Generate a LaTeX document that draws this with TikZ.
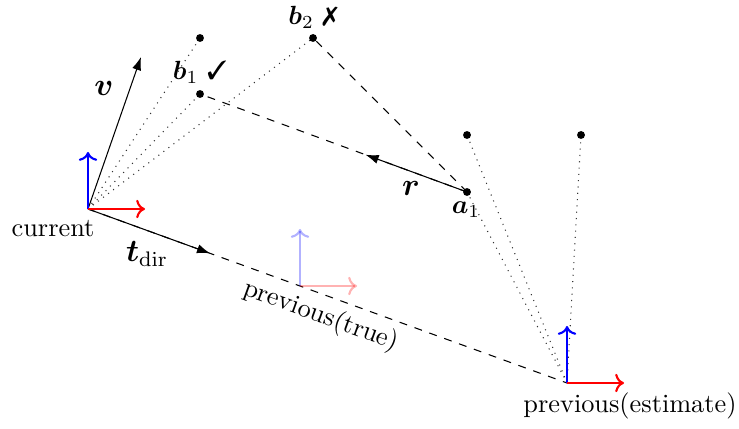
\documentclass[tikz,border=0pt]{standalone}
\usepackage{amsmath,bm,pifont}
\usetikzlibrary{calc,arrows.meta}
\begin{document}
\begin{tikzpicture}[x=0.38pt,y=-0.38pt,
  dotpt/.style={fill=black,circle,inner sep=0pt,minimum size=3pt},
  sight/.style={dotted,black!80},
  axx/.style={->,thick,red},
  axy/.style={->,thick,blue},
  vec/.style={-{Latex[length=5pt,width=3.5pt]}},
  lbl/.style={inner sep=1pt}]
\useasboundingbox (0,0) rectangle (739,429);
% frames
\coordinate (cur) at (88,209);
\coordinate (cury) at (88,152);
\coordinate (curx) at (145,209);
\coordinate (pest) at (567,383);
\coordinate (pesty) at (567,326);
\coordinate (pestx) at (624,383);
\coordinate (ptrue) at (300,286);
\coordinate (ptruey) at (300,229);
\coordinate (ptruex) at (357,286);
% points
\coordinate (b1u) at (200,38);
\coordinate (b1) at (200,94);
\coordinate (b2) at (313,38);
\coordinate (a1u) at (467,135);
\coordinate (a1) at (467,192);
\coordinate (cu) at (581,135);
\coordinate (vend) at (141,57);
% sight lines
\draw[sight] (cur) -- (b1u);
\draw[sight] (cur) -- (b1);
\draw[sight] (cur) -- (b2);
\draw[sight] (pest) -- (a1u);
\draw[sight] (pest) -- (a1);
\draw[sight] (pest) -- (cu);
% dashed
\draw[dashed] (cur) -- (pest);
\draw[dashed] (a1) -- (b1);
\draw[dashed] (a1) -- (b2);
% vectors
\draw[vec] (cur) -- ($(cur)!0.255!(pest)$);
\draw[vec] (a1) -- ($(a1)!0.38!(b1)$);
\draw[vec] (cur) -- (vend);
% axes
\draw[axy] (cur) -- (cury);
\draw[axx] (cur) -- (curx);
\draw[axy,opacity=0.3] (ptrue) -- (ptruey);
\draw[axx,opacity=0.3] (ptrue) -- (ptruex);
\draw[axy] (pest) -- (pesty);
\draw[axx] (pest) -- (pestx);
% dots
\foreach \p in {b1u,b1,b2,a1u,a1,cu} \node[dotpt] at (\p) {};
% labels
\node[lbl] (lcur) at (53,229) {current};
\node[lbl] (lpest) at (630,406) {previous(estimate)};
\node[lbl,rotate=-20] (lptrue) at (321,316) {previous(true)};
\node[lbl,font=\large] (lv) at (104,88) {$\bm{v}$};
\node[lbl,font=\large] (lt) at (147,254) {$\bm{t}_{\mathrm{dir}}$};
\node[lbl,font=\large] (lr) at (411,188) {$\bm{r}$};
\node[lbl] (la1) at (466,210) {$\bm{a}_1$};
\node[lbl] (lb1) at (200,72) {$\bm{b}_1$~\ding{51}};
\node[lbl] (lb2) at (313,17) {$\bm{b}_2$~\ding{55}};
\end{tikzpicture}
\end{document}
